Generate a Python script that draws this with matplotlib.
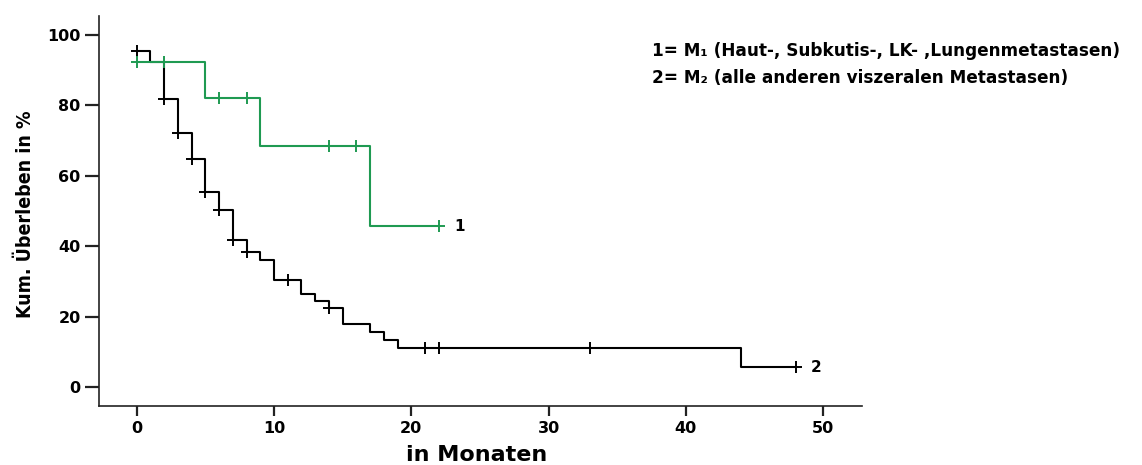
import numpy as np
import matplotlib
matplotlib.use("Agg")
import matplotlib.pyplot as plt

# Kaplan-Meier estimates (cumulative survival in %), step changes at event times
m1_times = [0, 5, 9, 17]
m1_surv = [92.3, 82.1, 68.4, 45.6]
m1_end = 22
m1_censored = [0, 2, 6, 8, 14, 16, 22]

m2_times = [0, 1, 2, 3, 4, 5, 6, 7, 8, 9, 10, 12, 13, 14, 15, 17, 18, 19, 44]
m2_surv = [95.3, 92.4, 81.7, 72.1, 64.7, 55.4, 50.3, 41.7, 38.2, 36.1, 30.4,
           26.4, 24.4, 22.4, 17.9, 15.7, 13.4, 11.2, 5.6]
m2_end = 48
m2_censored = [0, 2, 3, 4, 5, 6, 7, 8, 11, 14, 21, 22, 33, 48]

x_ticks = [0, 10, 20, 30, 40, 50]
y_ticks = [0, 20, 40, 60, 80, 100]

legend_lines = [
    "1= M\u2081 (Haut-, Subkutis-, LK- ,Lungenmetastasen)",
    "2= M\u2082 (alle anderen viszeralen Metastasen)",
]

GREEN = "#1f9a52"
BLACK = "#000000"

fig = plt.figure(figsize=(11.42, 4.65), dpi=100)
ax = fig.add_axes([0.0864, 0.1269, 0.6681, 0.8393])


def km_curve(ax, times, surv, end, censored, color, label, zorder):
    t = list(times) + [end]
    s = list(surv) + [surv[-1]]
    ax.step(t, s, where="post", color=color, lw=1.5, zorder=zorder)
    idx = np.searchsorted(times, censored, side="right") - 1
    cy = np.asarray(surv)[idx]
    ax.plot(censored, cy, ls="none", marker="+", ms=9, mew=1.4,
            color=color, zorder=zorder + 0.5)
    ax.annotate(label, (end, surv[-1]), xytext=(11, 0),
                textcoords="offset points", ha="left", va="center",
                fontsize=11, fontweight="bold", family="DejaVu Sans",
                color="black")


km_curve(ax, m2_times, m2_surv, m2_end, m2_censored, BLACK, "2", 3)
km_curve(ax, m1_times, m1_surv, m1_end, m1_censored, GREEN, "1", 4)

ax.set_xlim(-2.77, 52.8)
ax.set_ylim(-5.4, 105.4)
ax.set_xticks(x_ticks)
ax.set_yticks(y_ticks)
ax.set_xticklabels([str(v) for v in x_ticks], fontsize=11.5,
                   fontweight="bold", family="DejaVu Sans")
ax.set_yticklabels([str(v) for v in y_ticks], fontsize=11.5,
                   fontweight="bold", family="DejaVu Sans")

for side in ("top", "right"):
    ax.spines[side].set_visible(False)
for side in ("left", "bottom"):
    ax.spines[side].set_linewidth(1.2)
    ax.spines[side].set_color("#222222")

ax.tick_params(axis="y", length=10, width=1.6, pad=3, color="#222222")
ax.tick_params(axis="x", length=7, width=1.6, pad=4, color="#222222")

fig.text(0.4177, 0.021, "in Monaten", ha="center", va="center",
         fontsize=16, fontweight="bold", family="DejaVu Sans")

fig.text(0.022, 0.54, "Kum. \u00dcberleben in %", rotation=90,
         ha="center", va="center", fontsize=14, fontweight="bold",
         family=["Liberation Sans Narrow", "DejaVu Sans"],
         fontstretch="condensed")

for i, line in enumerate(legend_lines):
    fig.text(0.5707, 0.891 - i * 0.0594, line, ha="left", va="center",
             fontsize=12.2, fontweight="bold", family="DejaVu Sans")

fig.savefig("out.png", dpi=100, facecolor="white")
